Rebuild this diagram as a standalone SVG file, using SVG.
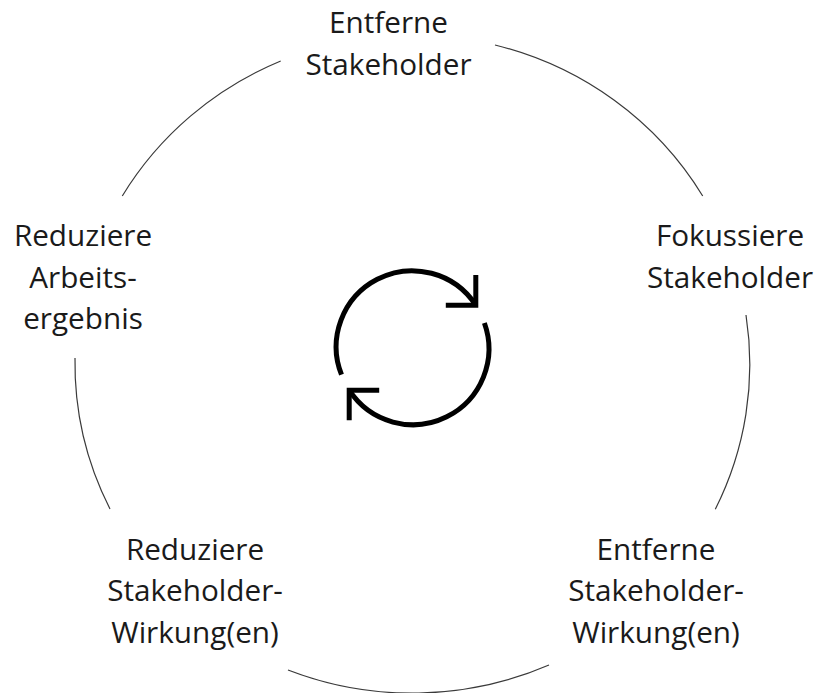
<svg xmlns="http://www.w3.org/2000/svg" width="815" height="693" viewBox="0 0 815 693">
<style>
.arc{fill:none;stroke:#3a3a3a;stroke-width:1.2}
.lbl{font-family:"Open Sans","Noto Sans",sans-serif;font-size:29.7px;fill:#1a1a1a;text-anchor:middle}
.ic{fill:none;stroke:#000;stroke-width:5;stroke-linejoin:miter;stroke-linecap:butt}
</style>
<rect width="815" height="693" fill="#fff"/>
<g id="connectors">
<path class="arc" d="M495 45 A337.5 329 0 0 1 702.7 196"/>
<path class="arc" d="M746 315 A337.5 329 0 0 1 715.3 509.3"/>
<path class="arc" d="M549 665 A337.5 329 0 0 1 288 670"/>
<path class="arc" d="M110 509 A337.5 329 0 0 1 75 358"/>
<path class="arc" d="M122.3 196 A337.5 329 0 0 1 280.7 61"/>
</g>
<g id="cycle-icon">
<path class="ic" d="M341.5 374.7 A76 76 0 0 1 475.8 305.2"/>
<path class="ic" d="M475.8 275 L475.8 305.2 L445.8 305.2"/>
<path class="ic" d="M484.4 323 A76 76 0 0 1 349.2 390.2"/>
<path class="ic" d="M379.2 390.2 L349.2 390.2 L349.2 420.2"/>
</g>
<g id="n-top">
<text class="lbl" x="388.5" y="33">Entferne</text>
<text class="lbl" x="388.5" y="75">Stakeholder</text>
</g>
<g id="n-right">
<text class="lbl" x="730" y="246">Fokussiere</text>
<text class="lbl" x="730" y="288">Stakeholder</text>
</g>
<g id="n-bottom-right">
<text class="lbl" x="656" y="560">Entferne</text>
<text class="lbl" x="656" y="601">Stakeholder-</text>
<text class="lbl" x="656" y="643">Wirkung(en)</text>
</g>
<g id="n-bottom-left">
<text class="lbl" x="195" y="560">Reduziere</text>
<text class="lbl" x="195" y="601">Stakeholder-</text>
<text class="lbl" x="195" y="643">Wirkung(en)</text>
</g>
<g id="n-left">
<text class="lbl" x="83" y="246">Reduziere</text>
<text class="lbl" x="83" y="288">Arbeits-</text>
<text class="lbl" x="83" y="329">ergebnis</text>
</g>
</svg>
